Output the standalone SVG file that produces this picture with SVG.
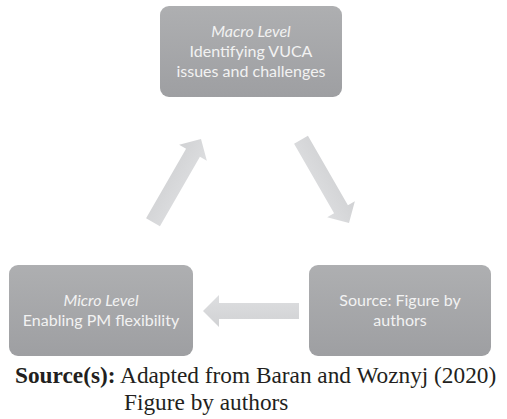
<svg xmlns="http://www.w3.org/2000/svg" width="507" height="419" viewBox="0 0 507 419">
<style>
.box{fill:url(#bg);}
.t{font-family:Lato,"Open Sans","Liberation Sans",sans-serif;font-size:16px;fill:#f2f2f2;text-anchor:middle;}
.i{font-style:italic;}
.arr{fill:url(#ag);}
.cap{font-family:"Liberation Serif","Times New Roman",serif;font-size:23.3px;fill:#231f20;}
</style>
<defs>
<linearGradient id="bg" x1="0" y1="0" x2="0" y2="1">
<stop offset="0" stop-color="#aeafb1"/>
<stop offset="1" stop-color="#9e9fa2"/>
</linearGradient>
<linearGradient id="ag" x1="0" y1="0" x2="0" y2="1">
<stop offset="0" stop-color="#d1d2d4"/>
<stop offset="1" stop-color="#dddee0"/>
</linearGradient>
<path id="arrow" d="M-96,-8 L-16,-8 L-16,-16 L0,0 L-16,16 L-16,8 L-96,8 Z"/>
</defs>
<g id="macro">
<rect class="box" x="160" y="6" width="182" height="91" rx="9"/>
<text class="t i" x="251" y="37">Macro Level</text>
<text class="t" x="251" y="57">Identifying VUCA</text>
<text class="t" x="251" y="77">issues and challenges</text>
</g>
<g id="source">
<rect class="box" x="309" y="265" width="182" height="91" rx="9"/>
<text class="t" x="400" y="306">Source: Figure by</text>
<text class="t" x="400" y="326">authors</text>
</g>
<g id="micro">
<rect class="box" x="9" y="265" width="184" height="91" rx="9"/>
<text class="t i" x="101" y="306">Micro Level</text>
<text class="t" x="101" y="326">Enabling PM flexibility</text>
</g>
<g id="connectors">
<use href="#arrow" class="arr" transform="translate(349,223) rotate(60)"/>
<use href="#arrow" class="arr" transform="translate(203,311) rotate(180)"/>
<use href="#arrow" class="arr" transform="translate(201,139) rotate(-60)"/>
</g>
<g id="caption">
<text class="cap" x="15" y="383"><tspan font-weight="bold">Source(s):</tspan> Adapted from Baran and Woznyj (2020)</text>
<text class="cap" x="124" y="410">Figure by authors</text>
</g>
</svg>
